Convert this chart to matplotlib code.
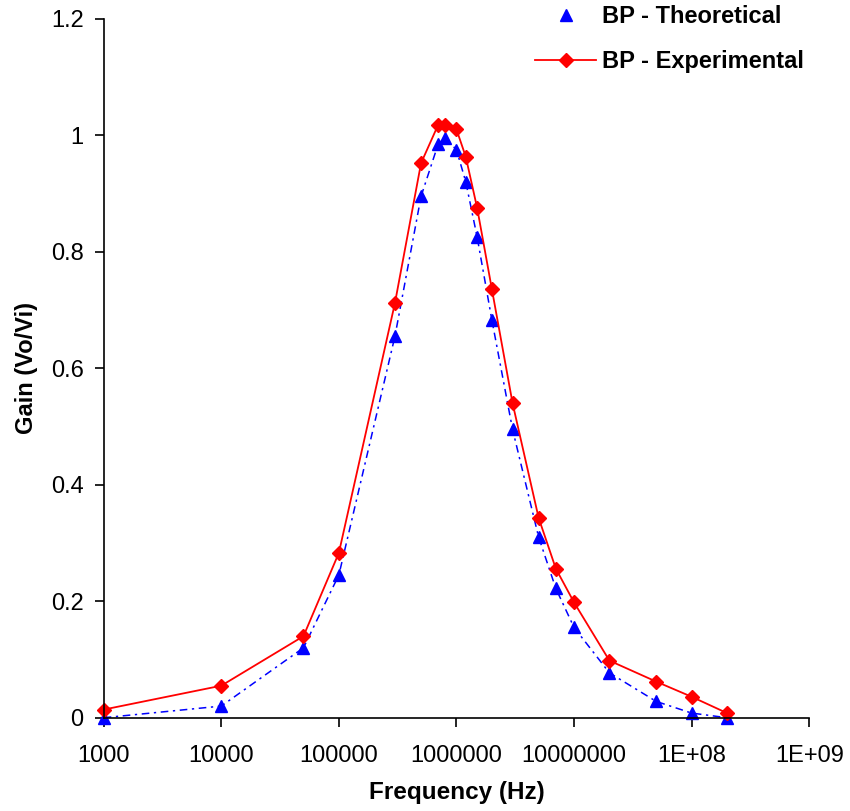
import numpy as np
import matplotlib.pyplot as plt
from matplotlib.ticker import FixedLocator, NullLocator

plt.rcParams['font.family'] = ['Liberation Sans', 'DejaVu Sans']

freq = [1e3, 1e4, 5e4, 1e5, 3e5, 5e5, 7e5, 8e5, 1e6, 1.2e6, 1.5e6, 2e6,
        3e6, 5e6, 7e6, 1e7, 2e7, 5e7, 1e8, 2e8]
theo = [0.0, 0.02, 0.12, 0.245, 0.655, 0.895, 0.985, 0.995, 0.975, 0.92,
        0.825, 0.683, 0.495, 0.31, 0.222, 0.155, 0.077, 0.028, 0.008, 0.0]
expt = [0.014, 0.055, 0.14, 0.283, 0.712, 0.952, 1.018, 1.018, 1.01, 0.963,
        0.875, 0.736, 0.54, 0.343, 0.256, 0.198, 0.098, 0.062, 0.036, 0.008]

xticks = [1e3, 1e4, 1e5, 1e6, 1e7, 1e8, 1e9]
xlabels = ['1000', '10000', '100000', '1000000', '10000000', '1E+08', '1E+09']
yticks = [0, 0.2, 0.4, 0.6, 0.8, 1.0, 1.2]
ylabels = ['0', '0.2', '0.4', '0.6', '0.8', '1', '1.2']

fig = plt.figure(figsize=(8.5, 8.11), dpi=100)
ax = fig.add_axes([0.122, 0.115, 0.830, 0.862])

ax.plot(freq, theo, color='blue', linestyle=(0, (5, 3, 1.5, 3)), linewidth=1.1,
        marker='^', markersize=9, label='BP - Theoretical', clip_on=False)
ax.plot(freq, expt, color='red', linestyle='-', linewidth=1.3,
        marker='D', markersize=7, label='BP - Experimental', clip_on=False)

ax.set_xscale('log')
ax.set_xlim(1e3, 1e9)
ax.set_ylim(0, 1.2)
ax.xaxis.set_major_locator(FixedLocator(xticks))
ax.xaxis.set_minor_locator(NullLocator())
ax.set_xticklabels(xlabels)
ax.set_yticks(yticks)
ax.set_yticklabels(ylabels)
ax.tick_params(direction='out', length=6.5, width=1.2, labelsize=17)
ax.tick_params(axis='x', pad=13)
ax.tick_params(axis='y', pad=8)

for s in ['top', 'right']:
    ax.spines[s].set_visible(False)
for s in ['left', 'bottom']:
    ax.spines[s].set_linewidth(1.2)

ax.set_xlabel('Frequency (Hz)', fontsize=17.5, fontweight='bold', labelpad=10)
ax.set_ylabel('Gain (Vo/Vi)', fontsize=17, fontweight='bold', labelpad=9)

leg = fig.legend(*ax.get_legend_handles_labels(), loc='upper left',
                 bbox_to_anchor=(535 / 850, 1 - 5 / 811), frameon=False,
                 prop={'weight': 'bold', 'size': 17}, handlelength=2.6,
                 handletextpad=0.25, labelspacing=0.95, borderpad=0,
                 borderaxespad=0)
leg.legend_handles[0].set_linestyle('none')

fig.savefig('out.png', dpi=100)
